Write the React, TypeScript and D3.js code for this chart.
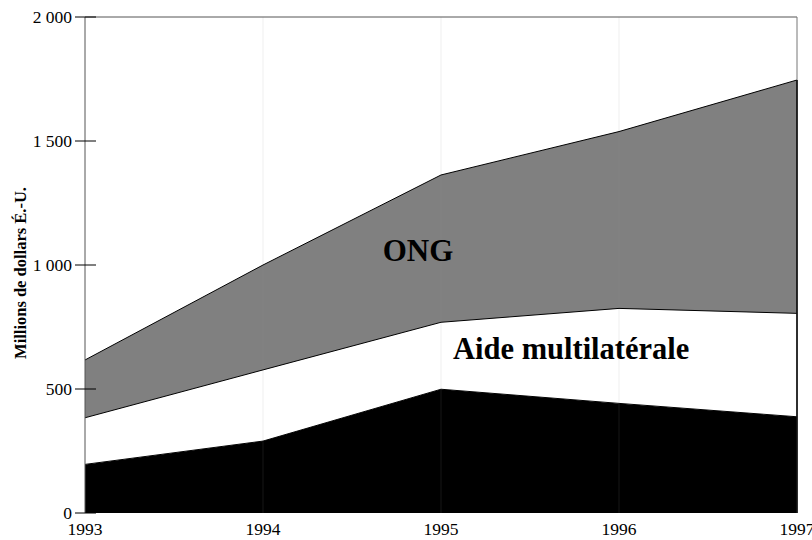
import React from 'react';
import * as d3 from 'd3';

const years = [1993, 1994, 1995, 1996, 1997];
const bilateral = [196, 290, 499, 442, 388];
const multilateral = [188, 287, 270, 383, 417];
const ong = [233, 423, 594, 713, 941];
const yTicks = [0, 500, 1000, 1500, 2000];
const colors = ['#000000', '#ffffff', '#808080'];

const width = 812;
const height = 540;
const margin = { top: 17, right: 15, bottom: 27, left: 85 };
const serif = 'Liberation Serif';

const App = () => {
    const x = d3
        .scaleLinear()
        .domain([1993, 1997])
        .range([margin.left, width - margin.right]);
    const y = d3
        .scaleLinear()
        .domain([0, 2000])
        .range([height - margin.bottom, margin.top]);

    const rows = years.map((yr, i) => ({
        year: yr,
        b: bilateral[i],
        m: multilateral[i],
        o: ong[i],
    }));
    const series = d3.stack().keys(['b', 'm', 'o'])(rows as any);

    const area = d3
        .area<any>()
        .x(d => x(d.data.year))
        .y0(d => y(d[0]))
        .y1(d => y(d[1]));
    const line = d3
        .line<any>()
        .x(d => x(d.data.year))
        .y(d => y(d[1]));

    const fmt = (v: number) => d3.format(',')(v).replace(',', ' ');

    return (
        <svg
            width={width}
            height={height}
            style={{ position: 'absolute', left: 0, top: 0 }}
        >
            <rect width={width} height={height} fill="#fff" />
            {series.map((s, i) => (
                <path key={i} d={area(s) || ''} fill={colors[i]} />
            ))}
            {/* faint year lines */}
            {years.slice(1, 4).map(yr => (
                <line
                    key={yr}
                    x1={x(yr)}
                    x2={x(yr)}
                    y1={y(2000)}
                    y2={y(0)}
                    stroke="#999"
                    strokeOpacity={0.15}
                />
            ))}
            {series.map((s, i) => (
                <path key={i} d={line(s) || ''} fill="none" stroke="#000" strokeWidth={1} />
            ))}
            {/* frame */}
            <line x1={x(1993)} x2={x(1997)} y1={y(2000)} y2={y(2000)} stroke="#555" />
            <line x1={x(1997)} x2={x(1997)} y1={y(2000)} y2={y(0)} stroke="#777" />
            <line
                x1={x(1997)}
                x2={x(1997)}
                y1={y(series[2][4][1])}
                y2={y(0)}
                stroke="#000"
                strokeWidth={1.5}
            />
            <line x1={x(1993)} x2={x(1993)} y1={y(2000)} y2={y(0)} stroke="#555" />
            {yTicks.map(t => (
                <g key={t}>
                    <line x1={75} x2={96} y1={y(t)} y2={y(t)} stroke="#000" />
                    <text
                        x={72}
                        y={y(t)}
                        dy="0.35em"
                        textAnchor="end"
                        fontSize={17.5}
                        fontFamily={serif}
                    >
                        {fmt(t)}
                    </text>
                </g>
            ))}
            {years.map(yr => (
                <text
                    key={yr}
                    x={x(yr)}
                    y={535}
                    textAnchor="middle"
                    fontSize={17.5}
                    fontFamily={serif}
                >
                    {yr}
                </text>
            ))}
            <text
                transform={`translate(26,${273}) rotate(-90)`}
                textAnchor="middle"
                fontSize={16.5}
                fontWeight="bold"
                fontFamily={serif}
            >
                Millions de dollars É.-U.
            </text>
            <text
                x={418}
                y={261}
                textAnchor="middle"
                fontSize={31}
                fontWeight="bold"
                fontFamily={serif}
            >
                ONG
            </text>
            <text x={453} y={359} fontSize={30.5} fontWeight="bold" fontFamily={serif}>
                Aide multilatérale
            </text>
        </svg>
    );
};

export default App;
